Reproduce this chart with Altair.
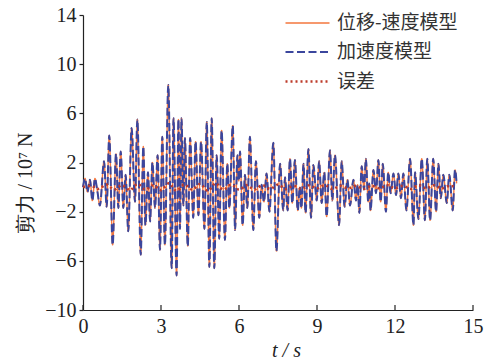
import altair as alt
import pandas as pd

# ---- data (peaks / troughs of the shear-force history) ----
time_s = [0.00, 0.08, 0.17, 0.27, 0.36, 0.46, 0.55, 0.65, 0.81, 0.91,
          1.01, 1.14, 1.27, 1.36, 1.45, 1.55, 1.64, 1.74, 1.87, 2.00,
          2.09, 2.22, 2.32, 2.40, 2.50, 2.58, 2.67, 2.77, 2.87, 2.96,
          3.05, 3.15, 3.28, 3.41, 3.48, 3.60, 3.67, 3.73, 3.79, 3.86,
          3.92, 4.03, 4.12, 4.24, 4.33, 4.44, 4.54, 4.67, 4.76, 4.86,
          4.95, 5.05, 5.14, 5.24, 5.33, 5.46, 5.55, 5.63, 5.76, 5.85,
          5.94, 5.99, 6.04, 6.14, 6.23, 6.32, 6.42, 6.55, 6.65, 6.78,
          6.87, 6.96, 7.06, 7.17, 7.32, 7.44, 7.58, 7.70, 7.77, 7.87,
          7.96, 8.05, 8.15, 8.26, 8.34, 8.40, 8.48, 8.56, 8.67, 8.77,
          8.86, 8.99, 9.08, 9.18, 9.28, 9.37, 9.50, 9.59, 9.69, 9.85,
          9.95, 10.06, 10.17, 10.27, 10.40, 10.50, 10.56, 10.63, 10.72, 10.81,
          10.88, 10.97, 11.01, 11.06, 11.17, 11.27, 11.36, 11.45, 11.53, 11.65,
          11.74, 11.83, 11.94, 12.04, 12.13, 12.23, 12.32, 12.44, 12.58, 12.71,
          12.77, 12.90, 13.03, 13.15, 13.24, 13.35, 13.47, 13.58, 13.67, 13.76,
          13.86, 13.99, 14.09, 14.22, 14.31, 14.37]

disp_vel_model = [0.0, 0.7, -0.4, 0.6, -1.1, 0.7, -0.3, -1.5, 2.1, -1.6,
                  4.2, -4.7, 2.7, -1.7, 2.9, -1.7, 1.0, -3.6, 4.8, -1.2,
                  5.5, -5.5, 3.3, -3.1, 1.2, -2.8, 2.0, -1.7, 2.6, -5.1,
                  4.1, -4.7, 8.3, -6.6, 5.6, -7.2, 5.5, -3.4, 5.6, -1.5,
                  4.0, -4.8, 4.0, -2.5, 3.7, -2.3, 3.7, -3.4, 5.3, -6.5,
                  5.6, -6.6, 2.6, -4.2, 4.6, -4.3, 1.9, -1.7, 5.0, -3.5,
                  2.6, 0.5, 2.9, -3.1, 1.0, -1.7, 4.1, -3.5, 2.1, -2.5,
                  0.2, -1.2, 1.1, -2.0, 3.6, -5.2, 1.9, -1.9, 0.8, -1.9,
                  2.3, -1.3, 2.2, -1.9, 0.0, -1.7, 1.9, -2.1, 3.1, -2.5,
                  1.8, -1.1, 2.1, -1.3, 1.2, -2.4, 3.0, -1.1, 2.6, -3.1,
                  2.1, -1.6, 0.6, -1.5, 0.6, -1.1, 0.2, -2.1, 1.7, -0.2,
                  2.3, -1.2, 0.3, -1.9, 1.4, -0.5, 2.2, -1.2, 1.9, -2.0,
                  1.2, -0.5, 1.1, -0.65, 1.1, -0.9, 1.1, -1.9, 2.3, -3.1,
                  1.2, -2.6, 2.3, -2.7, 2.3, -2.7, 2.3, -2.0, 1.9, -0.9,
                  1.0, -1.3, 1.0, -1.9, 1.4, 0.3]

# the acceleration model lies on top of the displacement-velocity model
accel_model = [0.0, 0.7, -0.4, 0.6, -1.1, 0.7, -0.3, -1.5, 2.1, -1.6,
               4.2, -4.7, 2.7, -1.7, 2.9, -1.7, 1.0, -3.6, 4.8, -1.2,
               5.5, -5.5, 3.3, -3.1, 1.2, -2.8, 2.0, -1.7, 2.6, -5.1,
               4.1, -4.7, 8.3, -6.6, 5.6, -7.2, 5.5, -3.4, 5.6, -1.5,
               4.0, -4.8, 4.0, -2.5, 3.7, -2.3, 3.7, -3.4, 5.3, -6.5,
               5.6, -6.6, 2.6, -4.2, 4.6, -4.3, 1.9, -1.7, 5.0, -3.5,
               2.6, 0.5, 2.9, -3.1, 1.0, -1.7, 4.1, -3.5, 2.1, -2.5,
               0.2, -1.2, 1.1, -2.0, 3.6, -5.2, 1.9, -1.9, 0.8, -1.9,
               2.3, -1.3, 2.2, -1.9, 0.0, -1.7, 1.9, -2.1, 3.1, -2.5,
               1.8, -1.1, 2.1, -1.3, 1.2, -2.4, 3.0, -1.1, 2.6, -3.1,
               2.1, -1.6, 0.6, -1.5, 0.6, -1.1, 0.2, -2.1, 1.7, -0.2,
               2.3, -1.2, 0.3, -1.9, 1.4, -0.5, 2.2, -1.2, 1.9, -2.0,
               1.2, -0.5, 1.1, -0.65, 1.1, -0.9, 1.1, -1.9, 2.3, -3.1,
               1.2, -2.6, 2.3, -2.7, 2.3, -2.7, 2.3, -2.0, 1.9, -0.9,
               1.0, -1.3, 1.0, -1.9, 1.4, 0.3]

err_time = [0.0, 0.3, 0.6, 0.9, 1.2, 1.5, 1.8, 2.1, 2.4, 2.7,
            3.0, 3.3, 3.6, 3.9, 4.2, 4.5, 4.8, 5.1, 5.4, 5.7,
            6.0, 6.3, 6.6, 6.9, 7.2, 7.5, 7.8, 8.1, 8.4, 8.7,
            9.0, 9.3, 9.6, 9.9, 10.2, 10.5, 10.8, 11.1, 11.4, 11.7,
            12.0, 12.3, 12.6, 12.9, 13.2, 13.5, 13.8, 14.1, 14.37]
err_value = [0.0, 0.1, -0.15, 0.2, -0.2, 0.15, -0.25, 0.25, -0.2, 0.15,
             -0.25, 0.3, -0.3, 0.2, -0.2, 0.25, -0.3, 0.3, -0.2, 0.2,
             -0.2, 0.15, -0.2, 0.15, -0.15, 0.2, -0.15, 0.1, -0.15, 0.15,
             -0.1, 0.15, -0.15, 0.1, -0.1, 0.1, -0.15, 0.1, -0.1, 0.15,
             -0.1, 0.1, -0.15, 0.15, -0.1, 0.15, -0.1, 0.1, 0.0]

series_names = ["位移-速度模型", "加速度模型", "误差"]
series_colors = ["#f4773e", "#3b469d", "#bd3b2a"]
series_dash = [[1, 0], [8, 3.5], [2, 3]]
series_width = [1.4, 2.6, 2.2]

x_ticks = [0, 3, 6, 9, 12, 15]
y_ticks = [-10, -6, -2, 2, 6, 10, 14]

rows = []
for t, v in zip(time_s, disp_vel_model):
    rows.append({"t": t, "v": v, "series": series_names[0]})
for t, v in zip(time_s, accel_model):
    rows.append({"t": t, "v": v, "series": series_names[1]})
for t, v in zip(err_time, err_value):
    rows.append({"t": t, "v": v, "series": series_names[2]})
df = pd.DataFrame(rows)
tick_df = pd.DataFrame({"xt": x_ticks})

SERIF = "Liberation Serif"

x_enc = alt.X("t:Q",
              scale=alt.Scale(domain=[0, 15], nice=False, zero=False),
              axis=alt.Axis(values=x_ticks, ticks=False, title="t / s",
                            titleFont=SERIF, titleFontSize=20, titleFontWeight="normal",
                            titleFontStyle="italic", titleColor="#222",
                            titleX=203, titleY=40, titleBaseline="middle",
                            labelPadding=6, labelFlush=False))
y_enc = alt.Y("v:Q",
              scale=alt.Scale(domain=[-10, 14], nice=False, zero=False),
              axis=alt.Axis(values=y_ticks, tickSize=4, title="剪力 / 10⁷ N",
                            titleFont=SERIF, titleFontSize=20, titleFontWeight="normal",
                            titleColor="#222", titleX=-58, titleY=168,
                            titleAngle=270, titleAlign="center", titleBaseline="middle",
                            labelPadding=3, labelFlush=False,
                            labelExpr="replace(datum.label, '-', '\u2212')"))
leg = alt.Legend(title=None)
color_enc = alt.Color("series:N", scale=alt.Scale(domain=series_names, range=series_colors), legend=leg)
dash_enc = alt.StrokeDash("series:N", scale=alt.Scale(domain=series_names, range=series_dash), legend=leg)
width_enc = alt.StrokeWidth("series:N", scale=alt.Scale(domain=series_names, range=series_width), legend=leg)

layers = []
for name in series_names:
    layers.append(
        alt.Chart(df).transform_filter(alt.datum.series == name)
        .mark_line(interpolate="monotone")
        .encode(x=x_enc, y=y_enc, color=color_enc, strokeDash=dash_enc, strokeWidth=width_enc)
    )

ticks = alt.Chart(tick_df).mark_rule(color="#222", strokeWidth=1.2).encode(
    x=alt.X("xt:Q"), y=alt.datum(-10), y2=alt.datum(-9.6))

chart = alt.layer(*layers, ticks).properties(
    width=390, height=295,
    autosize=alt.AutoSizeParams(type="none"),
    padding={"left": 75, "top": 7, "right": 13, "bottom": 52},
).configure_view(stroke=None).configure_axis(
    grid=False, domainColor="#222", domainWidth=1.2, tickColor="#222", tickWidth=1.2,
    labelFont=SERIF, labelFontSize=20, labelColor="#222",
).configure_legend(
    orient="none", legendX=213, legendY=-3, symbolType="M-2.2,0H2.2", symbolSize=400,
    labelFont="Noto Sans CJK SC", labelFontSize=19, labelColor="#333",
    labelOffset=18, rowPadding=8,
)

chart.save("out.html", embed_options={"renderer": "svg", "actions": False})
